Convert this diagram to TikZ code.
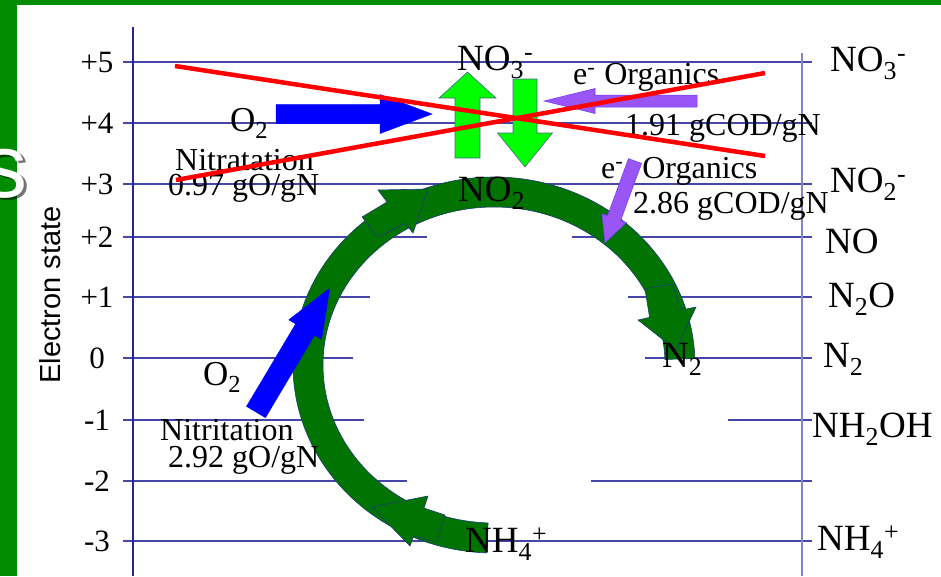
\documentclass[tikz,border=0pt]{standalone}
\usepackage{fontspec}
\setmainfont{Liberation Serif}
\newfontfamily\arialfont{Liberation Sans}
\usepackage{xcolor}
\usetikzlibrary{positioning}
\definecolor{slideGreen}{HTML}{008C00}
\definecolor{bandGreen}{HTML}{007300}
\definecolor{limeGreen}{HTML}{00FF00}
\definecolor{arrowBlue}{HTML}{0000FF}
\definecolor{orgViolet}{HTML}{9955F5}
\definecolor{crossRed}{HTML}{FF0000}
\definecolor{gridNavy}{HTML}{4646AA}
\definecolor{axisNavy}{HTML}{26268C}
\definecolor{axisLight}{HTML}{8484CC}
\definecolor{edgeNavy}{HTML}{1E3C78}

\begin{document}
\begin{tikzpicture}[x=1pt,y=-1pt,
    gridline/.style={draw=gridNavy,line width=1.2pt},
    levellab/.style={font=\fontsize{31}{34}\selectfont,inner sep=0pt,anchor=base},
    species/.style={font=\fontsize{37}{40}\selectfont,inner sep=0pt,anchor=base west},
    ratelab/.style={font=\fontsize{32}{36}\selectfont,inner sep=0pt,anchor=base west},
    oxylab/.style={font=\fontsize{35}{38}\selectfont,inner sep=0pt,anchor=base west},
    band/.style={fill=bandGreen,draw=edgeNavy,line width=0.6pt},
    crossline/.style={draw=crossRed,line width=4.5pt},
    pics/blockarrow/.style n args={4}{code={
      \filldraw (0,-#2) -- (#1-#4,-#2) -- (#1-#4,-#3) -- (#1,0)
        -- (#1-#4,#3) -- (#1-#4,#2) -- (0,#2) -- cycle;}}]
  \useasboundingbox (0,0) rectangle (941,576);
  \fill[slideGreen] (0,0) rectangle (17,576);
  \fill[slideGreen] (0,0) rectangle (941,5);
  \node[font=\arialfont\fontsize{90}{90}\selectfont,text=black,opacity=0.55,
        inner sep=0pt,anchor=base east] (sshade) at (30.5,199.5) {s};
  \node[font=\arialfont\fontsize{90}{90}\selectfont,text=white,
        inner sep=0pt,anchor=base east] (stitle) at (28,197) {s};

  % electron state levels
  \foreach \yy in {62,123,184,541}
    \draw[gridline] (123,\yy) -- (812,\yy);
  \foreach \yy/\xa/\xb in {237/427/572,297/370/628,358/353/645,420/364/728,481/407/591}{
    \draw[gridline] (123,\yy) -- (\xa,\yy);
    \draw[gridline] (\xb,\yy) -- (812,\yy);
  }
  \draw[axisNavy,line width=1.4pt] (133,27) -- (133,576);
  \draw[axisLight,line width=1.4pt] (802,53) -- (802,576);
  \foreach \yy/\lab [count=\i] in {62/+5,123/+4,184/+3,237/+2,297/+1,358/0,420/-1,481/-2,541/-3}
    \node[levellab] (lvl\i) at (97,\yy+10) {\lab};
  \node[rotate=90,font=\arialfont\fontsize{29}{32}\selectfont,inner sep=0pt]
    (ylab) at (50,295) {Electron state};

  % nitrogen cycle band
  \coordinate (ctr) at (494,365);
  \filldraw[band] ([shift={(92:201 and 188)}]ctr)
    arc[start angle=92,end angle=358,x radius=201,y radius=188]
    -- ([shift={(358:171 and 158)}]ctr)
    arc[start angle=358,end angle=92,x radius=171,y radius=158] -- cycle;
  \filldraw[band] (445,515) -- (424,508) -- (428,496) -- (372,507)
    -- (410,546) -- (413.6,536) -- (437,542) -- cycle;
  \filldraw[band] (362,217) -- (387,202) -- (378,190) -- (428,189)
    -- (413,233) -- (405,223) -- (378,237) -- cycle;
  \filldraw[band] (645,289) -- (649.6,317.4) -- (638,320) -- (676,350)
    -- (696,307) -- (681.5,310) -- (672,284) -- cycle;

  % block arrows
  \pic[fill=arrowBlue,draw=arrowBlue,line width=0.5pt] (o2up) at (276,114)
    {blockarrow={156}{9.5}{19.5}{52}};
  \pic[rotate=59.2,fill=arrowBlue,draw=arrowBlue,line width=0.5pt] (o2low) at (256,412)
    {blockarrow={144}{11}{19}{48}};
  \pic[rotate=90,fill=limeGreen,draw=edgeNavy!80,line width=0.6pt] (oxid) at (467.5,158)
    {blockarrow={86}{12.5}{28.5}{26}};
  \pic[rotate=-90,fill=limeGreen,draw=edgeNavy!80,line width=0.6pt] (redu) at (525,79)
    {blockarrow={88}{12}{27.5}{34}};
  \pic[rotate=180,fill=orgViolet,draw=orgViolet!70!blue,line width=0.5pt] (orgone) at (697,101)
    {blockarrow={153}{6}{12.5}{51}};
  \pic[rotate=-110.1,fill=orgViolet,draw=orgViolet!70!blue,line width=0.5pt] (orgtwo) at (635,161)
    {blockarrow={87.3}{7}{13}{26.5}};

  % labels
  \node[species] (no3top) at (457,70) {NO\textsubscript{3}\textsuperscript{-}};
  \node[species] (no2mid) at (458,201) {NO\textsubscript{2}};
  \node[species] (n2arc) at (662,367) {N\textsubscript{2}};
  \node[species] (nh4mid) at (465,552) {NH\textsubscript{4}\textsuperscript{+}};
  \node[ratelab] (eorg1) at (573,84) {e\textsuperscript{-}\hskip 9pt Organics};
  \node[ratelab] (cod1) at (625,135) {1.91 gCOD/gN};
  \node[ratelab] (eorg2) at (601,178) {e\textsuperscript{-}\hskip 19pt Organics};
  \node[ratelab] (cod2) at (633,213) {2.86 gCOD/gN};
  \node[oxylab] (o2a) at (230,131) {O\textsubscript{2}};
  \node[ratelab] (nitrata) at (175,170) {Nitratation};
  \node[ratelab] (rate1) at (168,195) {0.97 gO/gN};
  \node[oxylab] (o2b) at (203,385) {O\textsubscript{2}};
  \node[ratelab] (nitrita) at (160,440) {Nitritation};
  \node[ratelab] (rate2) at (168,467) {2.92 gO/gN};

  \node[species] (no3r) at (830,71) {NO\textsubscript{3}\textsuperscript{-}};
  \node[species] (no2r) at (830,192) {NO\textsubscript{2}\textsuperscript{-}};
  \node[species] (nor) at (825,253) {NO};
  \node[species] (n2or) at (828,307) {N\textsubscript{2}O};
  \node[species] (n2r) at (823,367) {N\textsubscript{2}};
  \node[species] (nh2ohr) at (812,437) {NH\textsubscript{2}OH};
  \node[species] (nh4r) at (817,550) {NH\textsubscript{4}\textsuperscript{+}};

  % crossed out
  \draw[crossline] (175,66) -- (765,156);
  \draw[crossline] (176,180) -- (765,73);
\end{tikzpicture}
\end{document}
